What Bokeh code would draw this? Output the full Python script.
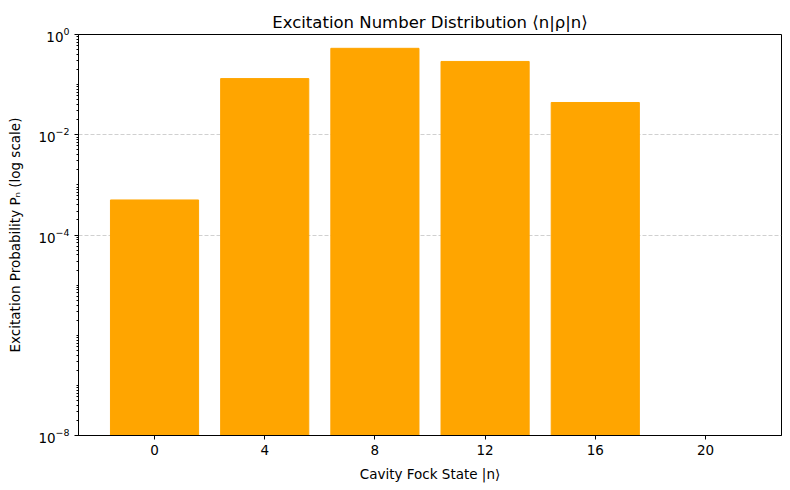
from bokeh.plotting import figure
from bokeh.models import FixedTicker, Range1d, ColumnDataSource
from bokeh.embed import file_html
from bokeh.resources import INLINE

fock_states = [0, 4, 8, 12, 16, 20]
probabilities = [5.0e-4, 0.132, 0.53, 0.29, 0.044, 1e-9]
y_major_ticks = [1e-8, 1e-4, 1e-2, 1e0]

src = ColumnDataSource(dict(x=fock_states, top=probabilities, bottom=[1e-12] * len(fock_states)))

p = figure(width=790, height=490, y_axis_type="log", output_backend="svg",
           toolbar_location=None, x_range=Range1d(-2.76, 22.76), y_range=Range1d(1e-8, 1),
           min_border_left=78, min_border_right=9, min_border_top=34, min_border_bottom=55)

p.vbar(x="x", top="top", bottom="bottom", width=3.2, source=src, color="#FFA500")

p.title.text = "Excitation Number Distribution ⟨n|ρ|n⟩"
p.title.align = "center"
p.title.vertical_align = "bottom"
p.title.standoff = 6
p.title.text_font = "DejaVu Sans"
p.title.text_font_size = "16.5px"
p.title.text_font_style = "normal"
p.title.text_color = "black"

p.xaxis.axis_label = "Cavity Fock State |n⟩"
p.yaxis.axis_label = "Excitation Probability Pₙ (log scale)"
for ax in (p.xaxis, p.yaxis):
    ax.axis_label_text_font = "DejaVu Sans"
    ax.axis_label_text_font_size = "13.5px"
    ax.axis_label_text_font_style = "normal"
    ax.axis_label_text_color = "black"
    ax.major_label_text_font = "DejaVu Sans"
    ax.major_label_text_font_size = "13.5px"
    ax.major_label_text_color = "black"
    ax.axis_line_color = "black"
    ax.major_tick_line_color = "black"
    ax.minor_tick_line_color = "black"
    ax.major_tick_out = 4
    ax.major_tick_in = 0
    ax.minor_tick_out = 2
    ax.minor_tick_in = 0
p.xaxis.axis_label_standoff = 8
p.yaxis.axis_label_standoff = 12

p.xaxis.ticker = FixedTicker(ticks=fock_states)
p.xaxis.minor_tick_line_color = None
minors = []
for k in range(-8, 0):
    for m in range(1, 10):
        v = m * 10.0 ** k
        if v not in y_major_ticks:
            minors.append(v)
p.yaxis.ticker = FixedTicker(ticks=y_major_ticks, minor_ticks=minors)

p.xgrid.grid_line_color = None
p.ygrid.ticker = FixedTicker(ticks=y_major_ticks)
p.ygrid.grid_line_color = "#b0b0b0"
p.ygrid.grid_line_alpha = 0.6
p.ygrid.grid_line_dash = "4 2"

p.outline_line_color = "black"
p.outline_line_width = 1
p.background_fill_color = "white"
p.border_fill_color = "white"

open("out.html", "w").write(file_html(p, INLINE))
